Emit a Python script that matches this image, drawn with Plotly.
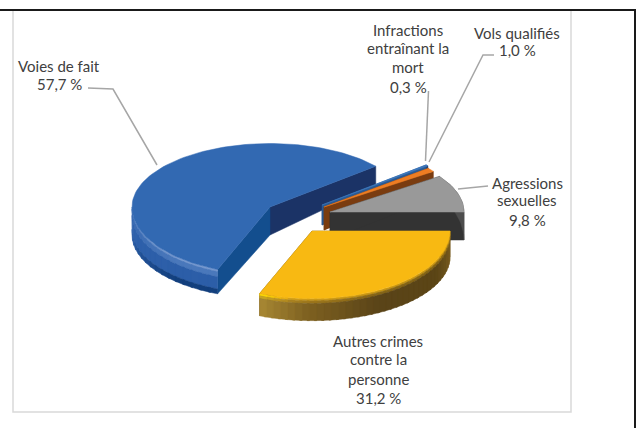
import math
import plotly.graph_objects as go

# donnees
categories = ["Autres crimes contre la personne", "Voies de fait",
              "Infractions entraînant la mort", "Vols qualifiés", "Agressions sexuelles"]
shares = [31.2, 57.7, 0.3, 1.0, 9.8]

top_colors = ["#f8b912", "#3269b2", "#3f79bd", "#ed7d23", "#999999"]
side_cut_colors = ["#6b521c", "#134e8e", "#2a5a94", "#7a3c10", "#333333"]
back_cut_colors = ["#6b521c", "#1b3366", "#1b3366", "#7a3c10", "#333333"]

# position of each exploded slice: centre x, centre y, radius, depth
centres = [(312, 231, 138, 26), (270, 207, 138, 28), (322, 205, 136, 20),
           (324, 207, 134, 23), (330, 212, 134, 28)]
draw_order = [1, 2, 3, 4, 0]

RY_FRONT = 0.49
RY_BACK = 0.46


def pt(i, r, a, drop=0.0):
    cx, cy, R, d = centres[i]
    c, s = math.cos(math.radians(a)), math.sin(math.radians(a))
    k = RY_FRONT if s > 0 else RY_BACK
    # the back of the pie is a bit thinner (perspective)
    depth = d - 15 * max(0.0, -s) * r - 4 * max(0.0, s) * r
    return cx + R * r * c, cy + R * k * r * s + drop * depth


def arc(i, a0, a1, drop=0.0, step=2.0):
    n = max(2, int(abs(a1 - a0) / step) + 1)
    return [pt(i, 1, a0 + (a1 - a0) * j / (n - 1), drop) for j in range(n)]


def mix(c1, c2, t):
    v1 = [int(c1[j:j + 2], 16) for j in (1, 3, 5)]
    v2 = [int(c2[j:j + 2], 16) for j in (1, 3, 5)]
    return "#%02x%02x%02x" % tuple(round(p + (q - p) * t) for p, q in zip(v1, v2))


fig = go.Figure()


def poly(points, color):
    xs = [p[0] for p in points] + [points[0][0]]
    ys = [p[1] for p in points] + [points[0][1]]
    fig.add_trace(go.Scatter(x=xs, y=ys, mode="lines", fill="toself", fillcolor=color,
                             line=dict(color=color, width=0.5), hoverinfo="skip", showlegend=False))


def cut_face(i, a, color):
    poly([pt(i, 0, a), pt(i, 1, a), pt(i, 1, a, 1), pt(i, 0, a, 1)], color)


def rim_blue(i, a0, a1):
    # bevel: highlight strongest near the cut, fading towards the left side
    bands = [(0, 0.08, "#4a78bb", "#7a9bd0"), (0.08, 0.3, "#3567b0", "#4a78bb"),
             (0.3, 0.8, "#3062ac", "#2c5ea8"), (0.8, 1, "#2f60aa", "#123f7d")]
    step = 4.0
    n = int((a1 - a0) / step)
    for j in range(n):
        s0 = a1 - (a1 - a0) * j / n
        s1 = a1 - (a1 - a0) * (j + 1) / n - 1.0
        t = min(1.0, (180 - s0) / 45)
        for t0, t1, far, near in bands:
            poly(arc(i, s0, max(s1, a0), t0) + arc(i, max(s1, a0), s0, t1), mix(far, near, t))


def yellow_side_color(a):
    stops = [(0, "#7d6020"), (25, "#5b4516"), (60, "#5a4418"), (90, "#7d6020"), (112.4, "#ab8b35")]
    for (a0, c0), (a1, c1) in zip(stops, stops[1:]):
        if a <= a1:
            return mix(c0, c1, (a - a0) / (a1 - a0))
    return stops[-1][1]


def rim_yellow(i, a0, a1):
    step = 3.0
    n = int((a1 - a0) / step)
    for j in range(n):
        s0 = a0 + (a1 - a0) * j / n
        s1 = min(a1, a0 + (a1 - a0) * (j + 1) / n + 1.0)
        col = yellow_side_color(s0)
        if s0 > 100:
            top = mix("#e8ae14", "#ffe000", (s0 - 100) / 12)
        else:
            top = mix("#e8ae14", col, 0.25)
        poly(arc(i, s0, s1, 0) + arc(i, s1, s0, 0.1), top)
        poly(arc(i, s0, s1, 0.1) + arc(i, s1, s0, 0.22), mix(top, col, 0.6))
        poly(arc(i, s0, s1, 0.22) + arc(i, s1, s0, 1), col)


starts = []
total = 0.0
for value in shares:
    starts.append(total * 3.6)
    total += value

for i in draw_order:
    a0 = starts[i]
    a1 = a0 + shares[i] * 3.6
    cut_face(i, a1, back_cut_colors[i])
    cut_face(i, a0, side_cut_colors[i])
    if i == 1:
        rim_blue(i, a0, 180)
    elif i == 0:
        rim_yellow(i, a0, a1)
    elif i == 4:
        poly(arc(i, a0, a1, 0) + arc(i, a1, a0, 1), "#4d4d4d")
    poly([pt(i, 0, a0)] + arc(i, a0, a1), top_colors[i])

# leader lines
leaders = [([88, 113, 157], [88, 89, 165]),
           ([428.5, 425.5], [91, 161]),
           ([494, 483, 429], [55, 55, 162]),
           ([458, 488], [189, 186])]
for xs, ys in leaders:
    fig.add_trace(go.Scatter(x=xs, y=ys, mode="lines", line=dict(color="#a6a6a6", width=1.5),
                             hoverinfo="skip", showlegend=False))


def pct(v):
    return f"{v:.1f} %".replace(".", ",")


# labels, one line at a time because the line spacing is uneven in the picture
label_lines = [
    (59, [("Voies de fait", 66), (pct(shares[1]), 84)]),
    (408, [("Infractions", 30), ("entraînant la", 47.5), ("mort", 67), (pct(shares[2]), 87)]),
    (517, [("Vols qualifiés", 33), (pct(shares[3]), 50)]),
    (527, [("Agressions", 183), ("sexuelles", 200), (pct(shares[4]), 220)]),
    (378, [("Autres crimes", 341), ("contre la", 359), ("personne", 379), (pct(shares[0]), 398)]),
]
for x, lines in label_lines:
    for text, y in lines:
        fig.add_annotation(x=x, y=y, text=text, showarrow=False, xanchor="center", yanchor="middle",
                           font=dict(family="Lato", size=15, color="#404040"))

shapes = [
    dict(type="rect", x0=13, y0=10, x1=571, y1=412, line=dict(color="#d9d9d9", width=1.5), layer="below"),
    dict(type="line", x0=0, y0=10, x1=636, y1=10, line=dict(color="#1a1a1a", width=2)),
    dict(type="line", x0=635, y0=10, x1=635, y1=428, line=dict(color="#1a1a1a", width=2)),
]

fig.update_layout(
    width=639, height=428,
    margin=dict(l=0, r=0, t=0, b=0),
    paper_bgcolor="white", plot_bgcolor="white",
    xaxis=dict(range=[0, 639], visible=False, fixedrange=True),
    yaxis=dict(range=[428, 0], visible=False, fixedrange=True),
    showlegend=False,
    shapes=shapes,
)

fig.write_html("out.html", config={"displayModeBar": False},
               post_script="document.body.style.margin='0';document.body.style.overflow='hidden';")
